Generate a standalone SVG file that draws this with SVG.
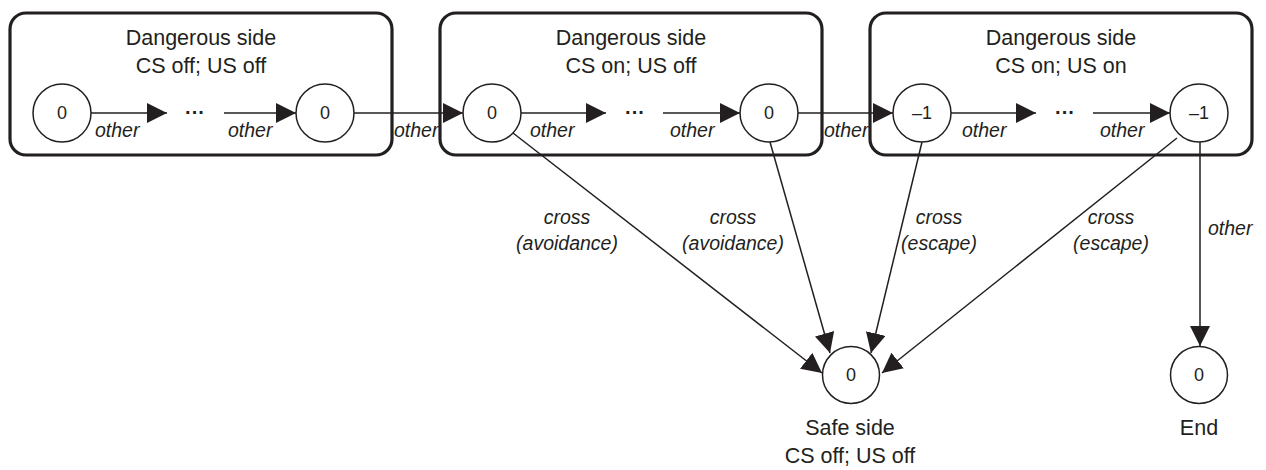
<svg xmlns="http://www.w3.org/2000/svg" width="1266" height="470" viewBox="0 0 1266 470">
<style>
.box{fill:none;stroke:#231f20;stroke-width:3.2}
.st{fill:#fff;stroke:#231f20;stroke-width:1.5}
.ln{fill:none;stroke:#231f20;stroke-width:1.5}
.t{font-family:"Liberation Sans",Arial,sans-serif;font-size:21.5px;fill:#231f20;text-anchor:middle}
.n{font-family:"Liberation Sans",Arial,sans-serif;font-size:18px;fill:#231f20;text-anchor:middle}
.l{font-family:"Liberation Sans",Arial,sans-serif;font-size:19.5px;font-style:italic;fill:#231f20}
.c{text-anchor:middle}
.d{font-family:"Liberation Sans",Arial,sans-serif;font-size:20px;font-weight:bold;fill:#231f20;text-anchor:middle}
</style>
<defs>
<marker id="ah" markerUnits="userSpaceOnUse" markerWidth="20" markerHeight="20" refX="20" refY="10" orient="auto" viewBox="0 0 20 20">
<path d="M0,0 L20,10 L0,20 z" fill="#231f20"/>
</marker>
</defs>
<rect width="1266" height="470" fill="#fff"/>
<g id="box1">
<rect class="box" x="10" y="13" width="382" height="142" rx="16"/>
<text class="t" x="201" y="45">Dangerous side</text>
<text class="t" x="201" y="73">CS off; US off</text>
<text class="d" x="195" y="119">···</text>
</g>
<g id="box2">
<rect class="box" x="440" y="13" width="382" height="142" rx="16"/>
<text class="t" x="631" y="45">Dangerous side</text>
<text class="t" x="631" y="73">CS on; US off</text>
<text class="d" x="635" y="119">···</text>
</g>
<g id="box3">
<rect class="box" x="870" y="13" width="382" height="142" rx="16"/>
<text class="t" x="1061" y="45">Dangerous side</text>
<text class="t" x="1061" y="73">CS on; US on</text>
<text class="d" x="1065" y="119">···</text>
</g>
<g id="connectors">
<line class="ln" x1="91" y1="113" x2="167" y2="113" marker-end="url(#ah)"/>
<line class="ln" x1="224" y1="113" x2="296" y2="113" marker-end="url(#ah)"/>
<line class="ln" x1="354" y1="113" x2="463" y2="113" marker-end="url(#ah)"/>
<line class="ln" x1="521" y1="113" x2="606" y2="113" marker-end="url(#ah)"/>
<line class="ln" x1="663" y1="113" x2="740" y2="113" marker-end="url(#ah)"/>
<line class="ln" x1="798" y1="113" x2="893" y2="113" marker-end="url(#ah)"/>
<line class="ln" x1="951" y1="113" x2="1036" y2="113" marker-end="url(#ah)"/>
<line class="ln" x1="1093" y1="113" x2="1170" y2="113" marker-end="url(#ah)"/>
<line class="ln" x1="513" y1="133" x2="822" y2="373" marker-end="url(#ah)"/>
<line class="ln" x1="770" y1="142" x2="830" y2="353" marker-end="url(#ah)"/>
<line class="ln" x1="922" y1="142" x2="871" y2="353" marker-end="url(#ah)"/>
<line class="ln" x1="1177" y1="138" x2="882" y2="373" marker-end="url(#ah)"/>
<line class="ln" x1="1200" y1="142" x2="1200" y2="346" marker-end="url(#ah)"/>
<text class="l" x="95" y="137">other</text>
<text class="l" x="228" y="137">other</text>
<text class="l" x="394" y="137">other</text>
<text class="l" x="530" y="137">other</text>
<text class="l" x="670" y="137">other</text>
<text class="l" x="824" y="137">other</text>
<text class="l" x="962" y="137">other</text>
<text class="l" x="1100" y="137">other</text>
<text class="l c" x="567" y="224">cross</text>
<text class="l c" x="567" y="250">(avoidance)</text>
<text class="l c" x="733" y="224">cross</text>
<text class="l c" x="733" y="250">(avoidance)</text>
<text class="l c" x="939" y="224">cross</text>
<text class="l c" x="939" y="250">(escape)</text>
<text class="l c" x="1111" y="224">cross</text>
<text class="l c" x="1111" y="250">(escape)</text>
<text class="l" x="1208" y="235">other</text>
</g>
<g id="s1"><circle class="st" cx="62" cy="113" r="29"/><text class="n" x="62" y="119">0</text></g>
<g id="s2"><circle class="st" cx="325" cy="113" r="29"/><text class="n" x="325" y="119">0</text></g>
<g id="s3"><circle class="st" cx="492" cy="113" r="29"/><text class="n" x="492" y="119">0</text></g>
<g id="s4"><circle class="st" cx="769" cy="113" r="29"/><text class="n" x="769" y="119">0</text></g>
<g id="s5"><circle class="st" cx="922" cy="113" r="29"/><text class="n" x="922" y="119">–1</text></g>
<g id="s6"><circle class="st" cx="1199" cy="113" r="29"/><text class="n" x="1199" y="119">–1</text></g>
<g id="safe"><circle class="st" cx="851" cy="375" r="28.5"/><text class="n" x="851" y="381">0</text>
<text class="t" x="850" y="435">Safe side</text><text class="t" x="850" y="463">CS off; US off</text></g>
<g id="end"><circle class="st" cx="1199" cy="375" r="28.5"/><text class="n" x="1199" y="381">0</text>
<text class="t" x="1199" y="435">End</text></g>
</svg>
